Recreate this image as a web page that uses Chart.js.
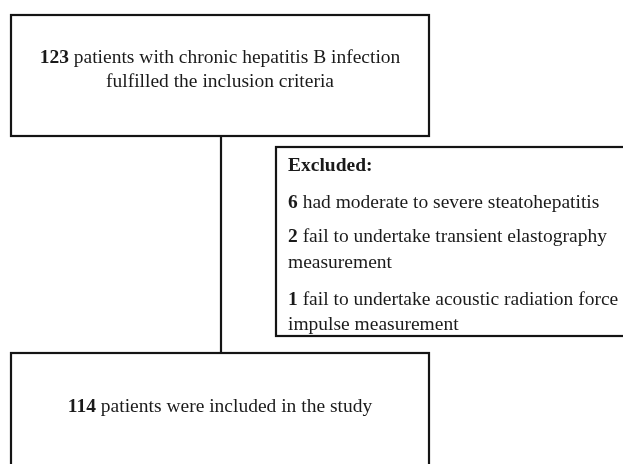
<!DOCTYPE html>
<html>
<head>
<meta charset="utf-8">
<script src="https://cdn.jsdelivr.net/npm/chart.js@4/dist/chart.umd.min.js"></script>
<style>
html,body{margin:0;padding:0;background:#fff;}
#wrap{width:623px;height:464px;}
</style>
</head>
<body>
<div id="wrap"><canvas id="c" width="623" height="464"></canvas></div>
<script>
// ---- content (flow counts and texts) ----
const stageNames = ["eligible", "excluded-steatohepatitis", "excluded-TE", "excluded-ARFI", "included"];
const stageCounts = [123, 6, 2, 1, 114];
const stageTexts = [
  ["patients with chronic hepatitis B infection", "fulfilled the inclusion criteria"],
  ["had moderate to severe steatohepatitis"],
  ["fail to undertake transient elastography", "measurement"],
  ["fail to undertake acoustic radiation force", "impulse measurement"],
  ["patients were included in the study"]
];
const excludedTitle = "Excluded:";

// ---- layout (pixel-like units on hidden linear axes) ----
const layout = {
  topBox: {x0: 11, y0: 15, x1: 429, y1: 136},
  exclBox: {x0: 276, y0: 147, x1: 640, y1: 336},
  botBox: {x0: 11, y0: 353, x1: 429, y1: 480},
  stemX: 221
};

const font = 'Liberation Serif, "Times New Roman", serif';
const fs = 19.5;

const flowPlugin = {
  id: 'flow',
  afterDraw(chart) {
    const ctx = chart.ctx;
    const xs = chart.scales.x, ys = chart.scales.y;
    const px = v => xs.getPixelForValue(v);
    const py = v => ys.getPixelForValue(v);
    ctx.save();
    ctx.strokeStyle = '#141414';
    ctx.lineWidth = 2.2;
    const box = b => ctx.strokeRect(px(b.x0), py(b.y0), px(b.x1) - px(b.x0), py(b.y1) - py(b.y0));
    box(layout.topBox); box(layout.exclBox); box(layout.botBox);
    ctx.beginPath();
    ctx.moveTo(px(layout.stemX), py(layout.topBox.y1));
    ctx.lineTo(px(layout.stemX), py(layout.botBox.y0));
    ctx.stroke();

    ctx.fillStyle = '#1a1a1a';
    ctx.textBaseline = 'alphabetic';
    const bold = 'bold ' + fs + 'px ' + font;
    const norm = fs + 'px ' + font;
    function line(num, txt, x, y, center) {
      ctx.font = bold;
      const nStr = num === null ? '' : String(num) + ' ';
      const wn = ctx.measureText(nStr).width;
      ctx.font = norm;
      const wt = ctx.measureText(txt).width;
      let sx = center ? x - (wn + wt) / 2 : x;
      ctx.font = bold; ctx.fillText(nStr, sx, y);
      ctx.font = norm; ctx.fillText(txt, sx + wn, y);
    }
    const cxTop = px((layout.topBox.x0 + layout.topBox.x1) / 2);
    line(stageCounts[0], stageTexts[0][0], cxTop, py(62.5), true);
    line(null, stageTexts[0][1], cxTop, py(86.5), true);

    const lx = px(layout.exclBox.x0 + 12);
    ctx.font = bold; ctx.fillText(excludedTitle, lx, py(170.5));
    line(stageCounts[1], stageTexts[1][0], lx, py(207.5), false);
    line(stageCounts[2], stageTexts[2][0], lx, py(242), false);
    line(null, stageTexts[2][1], lx, py(268), false);
    line(stageCounts[3], stageTexts[3][0], lx, py(305), false);
    line(null, stageTexts[3][1], lx, py(330), false);

    line(stageCounts[4], stageTexts[4][0], cxTop, py(411.5), true);
    ctx.restore();
  }
};

new Chart(document.getElementById('c'), {
  type: 'scatter',
  data: { datasets: [{ data: [], label: 'flow' }] },
  options: {
    responsive: false,
    animation: false,
    layout: { padding: 0 },
    plugins: { legend: { display: false }, tooltip: { enabled: false } },
    scales: {
      x: { type: 'linear', min: 0, max: 623, display: false },
      y: { type: 'linear', min: 0, max: 464, reverse: true, display: false }
    }
  },
  plugins: [flowPlugin]
});
</script>
</body>
</html>
